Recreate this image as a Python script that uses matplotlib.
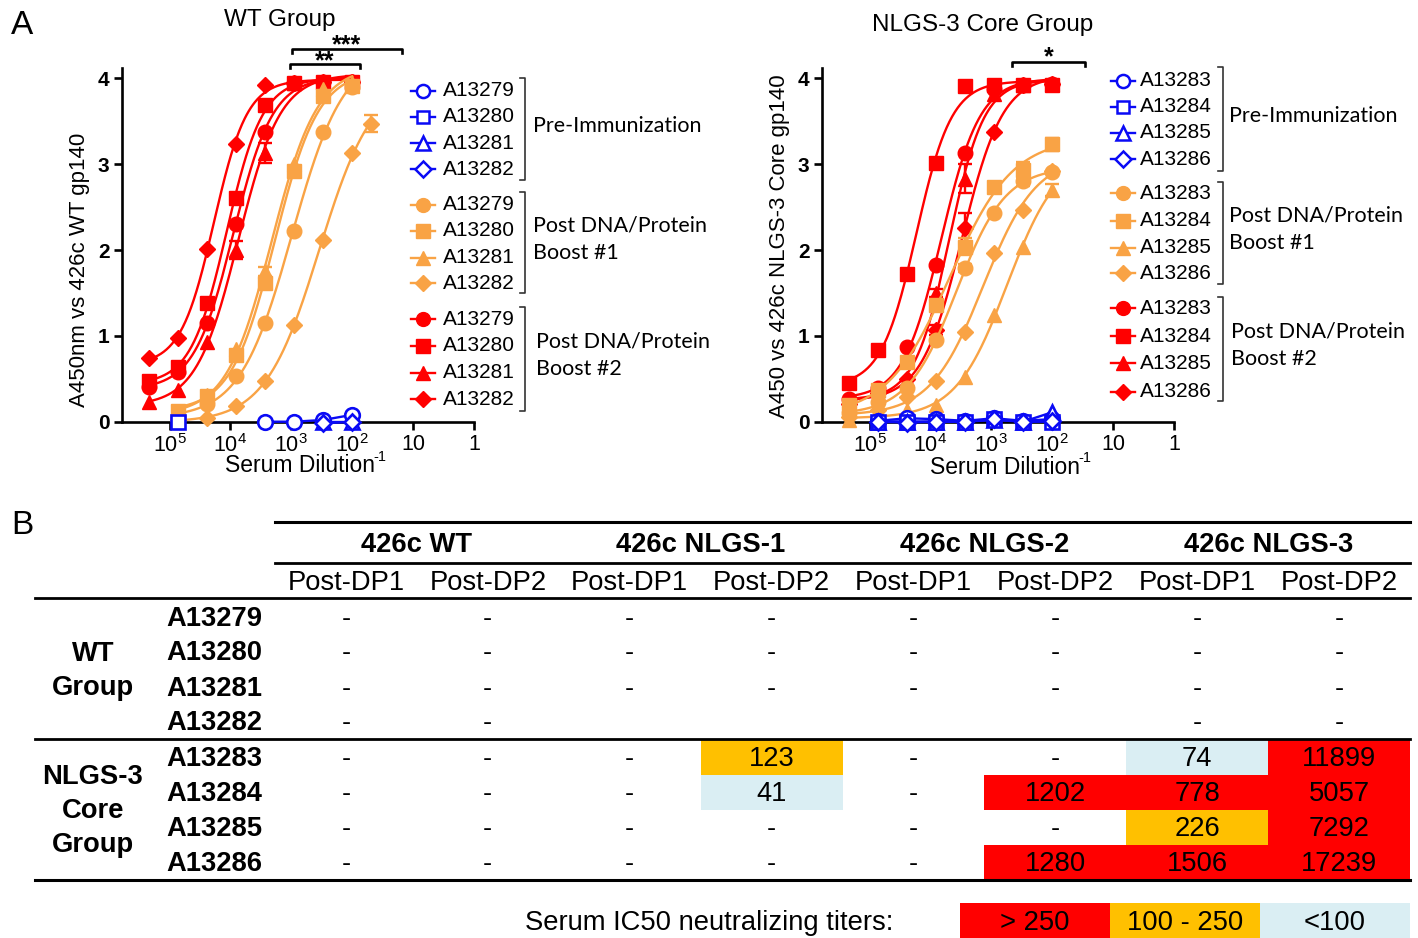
import numpy as np
import matplotlib
matplotlib.use("Agg")
import matplotlib.pyplot as plt
from matplotlib import font_manager as fm
from matplotlib.patches import Rectangle
from matplotlib.ticker import NullLocator

NA = np.nan

# ---------------- data ----------------
DILUTIONS = [218700, 72900, 24300, 8100, 2700, 900, 300, 100]
DIL_EXTRA = [72900, 24300, 8100, 2700, 900, 300, 100, 50]  # A13282 boost #1 has an extra point at 50
WT_ANIMALS = ["A13279", "A13280", "A13281", "A13282"]
CORE_ANIMALS = ["A13283", "A13284", "A13285", "A13286"]

# WT group, pre-immunization (72900 .. 100); NaN = not shown
wt_pre = [
    [NA, NA, NA, 0.00, 0.00, 0.02, 0.08],
    [0.00, NA, NA, NA, NA, NA, NA],
    [NA, NA, NA, NA, NA, 0.00, 0.00],
    [NA, NA, NA, NA, NA, -0.02, 0.00],
]
# boost #1 (72900 .. 100 ; last animal to 50)
wt_boost1 = [
    [0.06, 0.21, 0.53, 1.15, 2.22, 3.38, 3.90],
    [0.12, 0.30, 0.78, 1.61, 2.92, 3.79, 3.91],
    [0.10, 0.31, 0.85, 1.75, 3.00, 3.88, 3.94],
    [0.02, 0.04, 0.18, 0.47, 1.13, 2.12, 3.13, 3.47],
]
wt_boost1_err = [
    [0, 0, 0, 0, 0, 0, 0],
    [0, 0, 0, 0.06, 0, 0, 0],
    [0, 0, 0, 0.05, 0, 0, 0],
    [0, 0, 0, 0, 0, 0, 0, 0.10],
]
# boost #2 (218700 .. 100)
wt_boost2 = [
    [0.41, 0.58, 1.15, 2.30, 3.38, 3.94, 3.96, 3.96],
    [0.47, 0.64, 1.38, 2.60, 3.69, 3.94, 3.96, 3.96],
    [0.23, 0.37, 0.93, 2.00, 3.13, 3.94, 3.96, 3.96],
    [0.74, 0.97, 2.01, 3.23, 3.92, 3.95, 3.96, 3.96],
]
wt_boost2_err = [
    [0, 0, 0, 0, 0, 0, 0, 0],
    [0, 0, 0, 0, 0, 0, 0, 0],
    [0, 0, 0, 0.10, 0.12, 0, 0, 0],
    [0, 0, 0, 0, 0, 0, 0, 0],
]

# NLGS-3 core group
core_pre = [
    [0.01, 0.04, 0.03, 0.01, 0.04, 0.01, 0.03],
    [0.00, 0.00, 0.00, 0.00, 0.03, 0.00, 0.00],
    [0.00, 0.00, 0.00, 0.00, 0.02, 0.00, 0.11],
    [0.00, -0.01, 0.00, 0.00, 0.03, 0.00, 0.01],
]
core_boost1 = [
    [0.10, 0.23, 0.39, 0.95, 1.79, 2.43, 2.80, 2.91],
    [0.19, 0.37, 0.70, 1.36, 2.04, 2.73, 2.93, 3.23],
    [0.02, 0.08, 0.14, 0.20, 0.52, 1.24, 2.04, 2.70],
    [0.06, 0.14, 0.29, 0.47, 1.05, 1.96, 2.47, 2.92],
]
core_boost1_err = [
    [0, 0, 0, 0, 0.05, 0, 0.05, 0],
    [0, 0, 0, 0, 0.10, 0, 0.10, 0.08],
    [0, 0, 0, 0, 0, 0, 0, 0.07],
    [0, 0, 0, 0, 0, 0, 0, 0],
]
core_boost2 = [
    [0.27, 0.39, 0.87, 1.83, 3.13, 3.88, 3.92, 3.93],
    [0.45, 0.83, 1.72, 3.01, 3.91, 3.92, 3.92, 3.92],
    [0.25, 0.37, 0.49, 1.50, 2.83, 3.82, 3.92, 3.93],
    [0.21, 0.33, 0.50, 1.07, 2.26, 3.38, 3.92, 3.93],
]
core_boost2_err = [
    [0, 0, 0, 0, 0, 0, 0, 0],
    [0, 0, 0, 0, 0, 0, 0, 0],
    [0, 0, 0, 0.05, 0.17, 0, 0, 0],
    [0, 0, 0, 0.06, 0.17, 0, 0, 0],
]

# Table B
ANTIGENS = ["426c WT", "426c NLGS-1", "426c NLGS-2", "426c NLGS-3"]
TIMEPOINTS = ["Post-DP1", "Post-DP2"]
TABLE_ANIMALS = WT_ANIMALS + CORE_ANIMALS
TABLE_GROUPS = [["WT", "Group"], ["NLGS-3", "Core", "Group"]]
TITERS = [
    ["-", "-", "-", "-", "-", "-", "-", "-"],
    ["-", "-", "-", "-", "-", "-", "-", "-"],
    ["-", "-", "-", "-", "-", "-", "-", "-"],
    ["-", "-", "", "", "", "", "-", "-"],
    ["-", "-", "-", "123", "-", "-", "74", "11899"],
    ["-", "-", "-", "41", "-", "1202", "778", "5057"],
    ["-", "-", "-", "-", "-", "-", "226", "7292"],
    ["-", "-", "-", "-", "-", "1280", "1506", "17239"],
]
KEY_LABELS = ["> 250", "100 - 250", "<100"]

# ---------------- style ----------------
W, H = 1418, 938
BLUE = "#0A0AF5"
ORANGE = "#F9A345"
RED = "#FF0000"
C_HIGH, C_MID, C_LOW = "#FF0000", "#FFC000", "#DAEEF3"
MARKERS = [("o", 10.5), ("s", 10), ("^", 10.5), ("D", 8.5)]


def has_font(name):
    try:
        fm.findfont(fm.FontProperties(family=name), fallback_to_default=False)
        return True
    except Exception:
        return False


SANS = "Liberation Sans"
NARROW = "Liberation Sans Narrow" if has_font("Liberation Sans Narrow") else SANS
NSCALE = 1.0 if NARROW != SANS else 0.82
HUMAN = "Lato" if has_font("Lato") else "Open Sans"

plt.rcParams["font.family"] = [SANS, "DejaVu Sans"]
plt.rcParams["mathtext.fontset"] = "custom"
plt.rcParams["mathtext.rm"] = SANS
plt.rcParams["mathtext.it"] = SANS
plt.rcParams["mathtext.bf"] = SANS + ":bold"

fig = plt.figure(figsize=(W / 100, H / 100), dpi=100)
ov = fig.add_axes([0, 0, 1, 1])
ov.set_xlim(0, W)
ov.set_ylim(H, 0)
ov.axis("off")


def fit4pl(x, y):
    x = np.asarray(x, float)
    y = np.asarray(y, float)
    ok = ~np.isnan(y)
    lx, y = np.log10(x[ok]), y[ok]
    C = np.linspace(0.5, 6.5, 601)[:, None, None]
    Hh = np.linspace(0.3, 3.0, 271)[None, :, None]
    s = 1.0 / (1.0 + 10 ** ((lx[None, None, :] - C) * Hh))
    sm = s.mean(-1, keepdims=True)
    ym = y.mean()
    cov = ((s - sm) * (y - ym)).sum(-1)
    var = ((s - sm) ** 2).sum(-1) + 1e-12
    slope = cov / var
    icpt = ym - slope * sm[..., 0]
    pred = icpt[..., None] + slope[..., None] * s
    sse = ((pred - y) ** 2).sum(-1)
    i, j = np.unravel_index(np.argmin(sse), sse.shape)
    c, h, a, b = C[i, 0, 0], Hh[0, j, 0], icpt[i, j], slope[i, j]
    xs = np.logspace(lx.min(), lx.max(), 300)
    ys = a + b / (1.0 + 10 ** ((np.log10(xs) - c) * h))
    return xs, ys


def draw_fitted(ax, xvals, yy, ee, color, k, z):
    xs, ys = fit4pl(xvals, yy)
    ax.plot(xs, ys, color=color, lw=1.7, clip_on=False, zorder=z)
    m, ms = MARKERS[k]
    ax.plot(xvals, yy, ls="none", marker=m, ms=ms, color=color, clip_on=False, zorder=z + 1)
    ee = np.asarray(ee, float)
    idx = ee > 0
    if idx.any():
        ax.errorbar(np.asarray(xvals)[idx], np.asarray(yy)[idx], yerr=ee[idx], fmt="none",
                    ecolor=color, elinewidth=1.7, capsize=5, capthick=1.7, zorder=z + 1)


def draw_panel(ax, pre, b1, b1e, b2, b2e):
    for k, (yy, ee) in enumerate(zip(b2, b2e)):
        draw_fitted(ax, DILUTIONS[-len(yy):], yy, ee, RED, k, 2)
    for k, (yy, ee) in enumerate(zip(b1, b1e)):
        xv = DIL_EXTRA if len(yy) == len(DIL_EXTRA) and ax is axL and k == 3 else DILUTIONS[-len(yy):]
        draw_fitted(ax, xv, yy, ee, ORANGE, k, 4)
    for k, yy in enumerate(pre):
        m, ms = MARKERS[k]
        ax.plot(DILUTIONS[-len(yy):], yy, color=BLUE, lw=1.7, marker=m, ms=ms, mfc="white",
                mec=BLUE, mew=1.9, clip_on=False, zorder=6)

    ax.set_xscale("log")
    ax.set_xlim(10 ** 5.78, 1)
    ax.set_ylim(0, 4.12)
    ax.set_xticks([1e5, 1e4, 1e3, 1e2, 10, 1])
    ax.set_xticklabels(["$10^5$", "$10^4$", "$10^3$", "$10^2$", "10", "1"], fontsize=15.5)
    ax.xaxis.set_minor_locator(NullLocator())
    ax.set_yticks([0, 1, 2, 3, 4])
    ax.set_yticklabels(["0", "1", "2", "3", "4"], fontsize=15, fontweight="bold")
    for sp in ("top", "right"):
        ax.spines[sp].set_visible(False)
    for sp in ("left", "bottom"):
        ax.spines[sp].set_linewidth(1.9)
    ax.tick_params(direction="out", length=6, width=1.9, pad=3)
    ax.patch.set_alpha(0)


ax_h = (421.7 - 68) / H
axL = fig.add_axes([122 / W, 1 - 421.7 / H, 352 / W, ax_h])
axR = fig.add_axes([822 / W, 1 - 421.7 / H, 352 / W, ax_h])
draw_panel(axL, wt_pre, wt_boost1, wt_boost1_err, wt_boost2, wt_boost2_err)
draw_panel(axR, core_pre, core_boost1, core_boost1_err, core_boost2, core_boost2_err)

# titles / labels
ov.text(22, 25, "A", fontsize=24, ha="center", va="center")
ov.text(22, 525, "B", fontsize=24, ha="center", va="center")
ov.text(280, 20, "WT Group", fontsize=17.5, ha="center", va="center")
ov.text(983, 25, "NLGS-3 Core Group", fontsize=17.5, ha="center", va="center")
ov.text(80, 270, "A450nm vs 426c WT gp140", fontsize=16, rotation=90, ha="center", va="center")
ov.text(780, 246, "A450 vs 426c NLGS-3 Core gp140", fontsize=16, rotation=90, ha="center", va="center")
for xc, yc in ((300, 466), (1005, 467)):
    t = ov.text(xc, yc, "Serum Dilution", fontsize=16.5, ha="center", va="center")
    ov.annotate("-1", xy=(1.0, 1.0), xycoords=t, xytext=(-1.5, -7), textcoords="offset points",
                fontsize=10.5, ha="left", va="bottom")


def sig(x0, x1, y, label, ty):
    ov.plot([x0, x0, x1, x1], [y + 4, y, y, y + 4], color="black", lw=1.9)
    ov.text((x0 + x1) / 2, ty, label, fontsize=18, fontweight="bold", ha="center", va="center")


sig(292, 402, 49, "***", 45)
sig(290, 360, 64, "**", 61)
sig(1012, 1085, 62, "*", 57)


def legend(xm, xt, rows, labels, bx, brs, texts):
    colors = [BLUE] * 4 + [ORANGE] * 4 + [RED] * 4
    for i, (yy, lab) in enumerate(zip(rows, labels)):
        m, ms = MARKERS[i % 4]
        c = colors[i]
        ov.plot([xm - 12, xm + 12], [yy, yy], color=c, lw=1.7)
        if i < 4:
            ov.plot([xm], [yy], marker=m, ms=ms * 0.9, mfc="white", mec=c, mew=1.8)
        else:
            ov.plot([xm], [yy], marker=m, ms=ms * 0.95, color=c)
        ov.text(xt, yy, lab, fontsize=15, ha="left", va="center")
    for (y0, y1) in brs:
        ov.plot([bx - 5, bx, bx, bx - 5], [y0, y0, y1, y1], color="#333333", lw=1.2)
    for (tx, ty, t) in texts:
        ov.text(tx, ty, t, fontsize=15.5, family=HUMAN, ha="left", va="center")


legend(423, 443,
       [90.7, 116.7, 143.3, 169.3, 205, 231, 257.7, 283.3, 319.3, 345.7, 372.7, 399.3],
       WT_ANIMALS * 3, 525, [(78, 180), (192, 293), (307, 411)],
       [(533, 126, "Pre-Immunization"), (533, 225, "Post DNA/Protein"), (533, 253, "Boost #1"),
        (535.5, 341, "Post DNA/Protein"), (535.5, 369, "Boost #2")])
legend(1123, 1140,
       [80.7, 106.7, 132.7, 159.3, 193.3, 221, 247.7, 273.3, 308.3, 336, 363.3, 391.7],
       CORE_ANIMALS * 3, 1223, [(67, 171), (182, 284), (297, 401)],
       [(1229, 116, "Pre-Immunization"), (1229, 215, "Post DNA/Protein"), (1229, 243, "Boost #1"),
        (1231, 331, "Post DNA/Protein"), (1231, 359, "Boost #2")])

# ---------------- table ----------------
TX0, TX1 = 275, 1410
CW = (TX1 - TX0) / 8
FS = 24 * NSCALE
ov.plot([TX0, TX1], [522, 522], color="black", lw=2.2)
ov.plot([TX0, TX1], [563, 563], color="black", lw=2.0)
ov.plot([35, TX1], [598, 598], color="black", lw=2.0)
ov.plot([35, TX1], [739, 739], color="black", lw=2.0)
ov.plot([35, TX1], [880, 880], color="black", lw=2.2)
for g, name in enumerate(ANTIGENS):
    ov.text(TX0 + CW * (2 * g + 1), 545, name, family=NARROW, fontweight="bold",
            fontsize=FS, ha="center", va="center")
    for t, tp in enumerate(TIMEPOINTS):
        ov.text(TX0 + CW * (2 * g + t + 0.5), 583, tp, family=NARROW, fontsize=FS,
                ha="center", va="center")


def row_y(r):
    return 617 + 35 * r if r < 4 else 757.5 + 35 * (r - 4)


def cell_color(s):
    try:
        v = float(s)
    except ValueError:
        return None
    return C_HIGH if v > 250 else (C_MID if v >= 100 else C_LOW)


for r, animal in enumerate(TABLE_ANIMALS):
    yy = row_y(r)
    ov.text(262, yy + 1.5, animal, family=NARROW, fontweight="bold", fontsize=FS, ha="right", va="center")
    for c in range(8):
        s = TITERS[r][c]
        col = cell_color(s)
        if col:
            ov.add_patch(Rectangle((TX0 + CW * c, yy - 17.5), CW, 35, facecolor=col,
                                   edgecolor="none", zorder=0))
        if s:
            ov.text(TX0 + CW * (c + 0.5), yy + 1.5, s, family=NARROW, fontsize=FS,
                    ha="center", va="center", zorder=2)

for gi, lines in enumerate(TABLE_GROUPS):
    yc = 669.5 if gi == 0 else 809.5
    n = len(lines)
    for k, ln in enumerate(lines):
        ov.text(93, yc + 1.5 + (k - (n - 1) / 2) * 34, ln, family=NARROW, fontweight="bold",
                fontsize=FS, ha="center", va="center")

ov.text(893, 923, "Serum IC50 neutralizing titers:", family=NARROW, fontsize=FS,
        ha="right", va="center")
for i, (lab, col) in enumerate(zip(KEY_LABELS, [C_HIGH, C_MID, C_LOW])):
    x0 = 960 + 150 * i
    ov.add_patch(Rectangle((x0, 903), 150, 36, facecolor=col, edgecolor="none", zorder=0))
    ov.text(x0 + 75, 923, lab, family=NARROW, fontsize=FS, ha="center", va="center")

fig.savefig("out.png", dpi=100)
